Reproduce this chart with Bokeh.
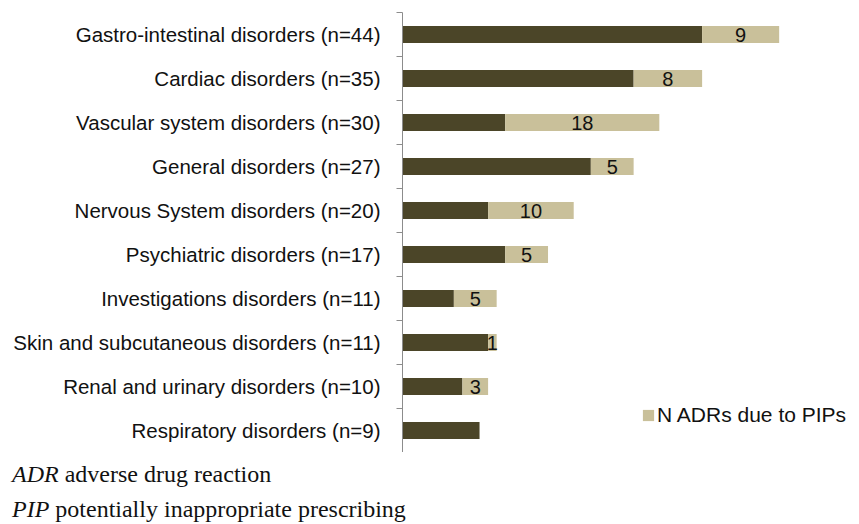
from bokeh.plotting import figure
from bokeh.layouts import column
from bokeh.models import Range1d, FixedTicker, Legend, LegendItem, ColumnDataSource, Div
from bokeh.embed import file_html
from bokeh.resources import INLINE
from bokeh.core.properties import value

categories = [
    "Gastro-intestinal disorders (n=44)",
    "Cardiac disorders (n=35)",
    "Vascular system disorders (n=30)",
    "General disorders (n=27)",
    "Nervous System disorders (n=20)",
    "Psychiatric disorders (n=17)",
    "Investigations disorders (n=11)",
    "Skin and subcutaneous disorders (n=11)",
    "Renal and urinary disorders (n=10)",
    "Respiratory disorders (n=9)",
]
totals = [44, 35, 30, 27, 20, 17, 11, 11, 10, 9]
pip_adrs = [9, 8, 18, 5, 10, 5, 5, 1, 3, 0]
other_adrs = [35, 27, 12, 22, 10, 12, 6, 10, 7, 9]
legend_label = "N ADRs due to PIPs"
foot_abbr = ["ADR", "PIP"]
foot_text = ["adverse drug reaction", "potentially inappropriate prescribing"]

DARK = "#4b4528"
LIGHT = "#c9c09a"
AXIS = "#8c8c8c"
TXT = "#111111"

n = len(categories)
yc = [n - i - 0.5 for i in range(n)]

W = 851
H1 = 452
H2 = 72
p = figure(width=W, height=H1, x_range=Range1d(0, 52.45), y_range=Range1d(0, n),
           output_backend="svg", toolbar_location=None,
           min_border_left=402, min_border_right=0, min_border_top=12,
           min_border_bottom=0)
p.outline_line_color = None
p.grid.visible = False
p.xaxis.visible = False

src = ColumnDataSource(dict(y=yc, other=other_adrs, total=totals, pip=pip_adrs))
p.hbar(y="y", left=0, right="other", height=0.39, source=src,
       fill_color=DARK, line_color=None)
r_light = p.hbar(y="y", left="other", right="total", height=0.39, source=src,
                 fill_color=LIGHT, line_color=None)

tx, ty, tt = [], [], []
for y, o, pp in zip(yc, other_adrs, pip_adrs):
    if pp > 0:
        tx.append(o + pp / 2)
        ty.append(y)
        tt.append(str(pp))
p.text(x=tx, y=ty, text=tt, text_align="center", text_baseline="middle",
       text_font=value("Liberation Sans"), text_font_size="20px", text_color=TXT)

ax = p.yaxis[0]
ax.ticker = FixedTicker(ticks=yc, minor_ticks=list(range(1, n + 1)))
ax.major_label_overrides = {y: c for y, c in zip(yc, categories)}
ax.major_label_text_font = "Liberation Sans"
ax.major_label_text_font_size = "20.5px"
ax.major_label_text_color = TXT
ax.major_label_standoff = 16
ax.major_tick_line_color = None
ax.major_tick_out = 0
ax.major_tick_in = 0
ax.minor_tick_line_color = AXIS
ax.minor_tick_out = 6
ax.minor_tick_in = 0
ax.axis_line_color = AXIS

legend = Legend(items=[LegendItem(label=legend_label, renderers=[r_light])],
                location=(239, 25), padding=0, margin=0, spacing=0,
                glyph_width=14, glyph_height=14, label_standoff=2, label_height=20,
                border_line_color=None, background_fill_alpha=0,
                label_text_font="Liberation Sans", label_text_font_size="21px",
                label_text_color=TXT)
p.add_layout(legend)

foot_html = "<br>".join(f"<i>{a}</i> {t}" for a, t in zip(foot_abbr, foot_text))
foot = Div(text=foot_html, width=W, height=H2, margin=(0, 0, 0, 0),
           styles={"font-family": "'Liberation Serif'", "font-size": "24px",
                   "line-height": "35px", "color": TXT,
                   "padding-left": "12px", "padding-top": "5px",
                   "box-sizing": "border-box", "white-space": "nowrap"})

open("out.html", "w").write(file_html(column(p, foot, spacing=0), INLINE))
